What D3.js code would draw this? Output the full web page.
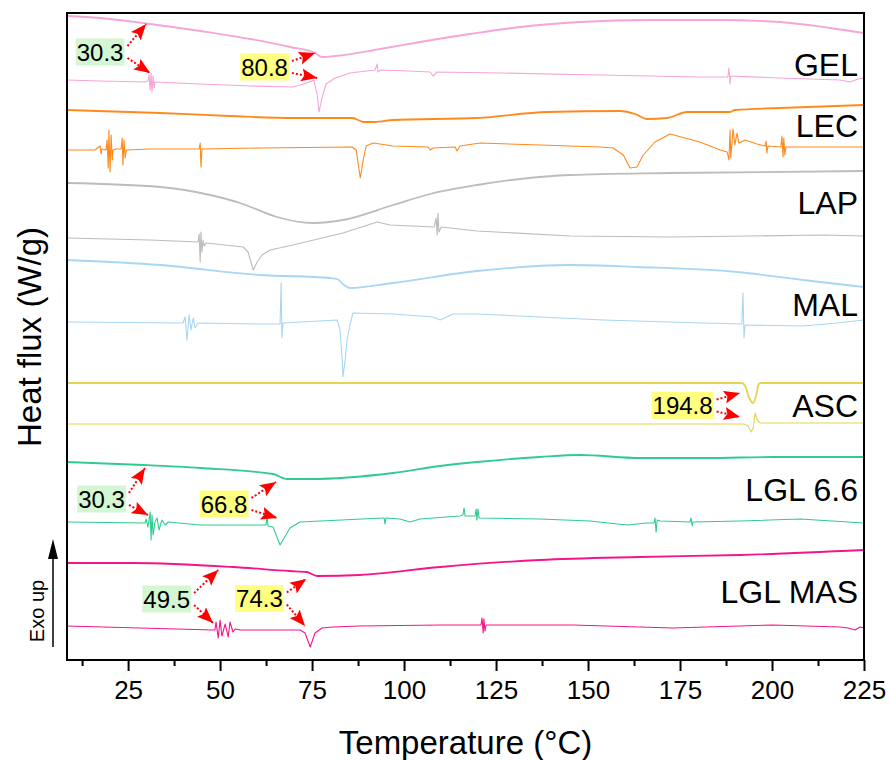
<!DOCTYPE html>
<html>
<head>
<meta charset="utf-8">
<script src="https://cdn.jsdelivr.net/npm/d3@7"></script>
<style>
  html, body { margin: 0; padding: 0; background: #fff; }
  svg { display: block; font-family: "Liberation Sans", Arial, sans-serif; }
</style>
</head>
<body>
<svg id="chart" width="889" height="760"></svg>
<script>
// ---------------- DATA ----------------
const xDomain = [8.4, 225];
const yDomain = [-0.1, 64.6];
const majorTicks = [25, 50, 75, 100, 125, 150, 175, 200, 225];
const minorTicks = [12.5, 37.5, 62.5, 87.5, 112.5, 137.5, 162.5, 187.5, 212.5];
const xTitle = "Temperature (°C)";
const yTitle = "Heat flux (W/g)";
const sampleNames = ["GEL", "LEC", "LAP", "MAL", "ASC", "LGL 6.6", "LGL MAS"];
const labelValues = [58.3, 52.2, 44.5, 34.3, 24.2, 15.8, 5.6];

const gelTop = [[8.4,64.3],[17.4,64.1],[31.0,63.5],[44.6,62.8],[58.2,62.0],[69.0,61.2],[75.8,60.6],[77.7,60.2],[81.3,60.3],[93.5,61.0],[104.3,61.7],[117.9,62.5],[131.5,63.2],[147.8,63.7],[166.8,63.9],[185.9,63.9],[202.2,63.7],[215.8,63.1],[225,62.6]];
const gelBottom = [[8.4,57.9],[17.4,57.8],[29.6,57.7],[30.4,57.8],[30.7,58.4],[31.0,56.9],[31.25,58.6],[31.5,56.7],[31.8,58.3],[32.1,57.1],[32.3,57.7],[44.6,57.5],[58.2,57.3],[69.8,57.2],[73.6,57.6],[75.5,57.9],[76.4,56.4],[76.9,54.7],[77.7,56.1],[78.8,57.5],[81.3,58.1],[85.3,58.6],[92.1,58.9],[92.7,59.5],[92.9,58.7],[93.5,58.9],[101.6,58.8],[107.1,58.7],[107.9,58.3],[109.0,58.7],[126.1,58.6],[153.3,58.4],[180.4,58.2],[188.0,58.2],[188.3,59.1],[188.6,57.5],[188.8,58.3],[202.2,58.1],[218.5,57.9],[221.2,57.7],[223.4,58.0],[225,58.1]];

const lecTop = [[8.4,54.9],[33.7,54.6],[52.7,54.3],[69.8,54.1],[86.1,54.1],[87.5,53.9],[88.9,53.7],[92.1,53.7],[97.0,53.9],[119.8,54.1],[138.9,54.7],[158.7,54.8],[162.8,54.5],[166.0,54.0],[171.5,54.1],[176.9,54.7],[188.6,54.7],[189.9,54.9],[202.2,55.1],[225,55.4]];
const lecBottom = [[8.4,50.9],[16.0,50.9],[17.4,51.3],[17.7,50.5],[17.9,51.0],[19.0,50.9],[19.3,51.9],[19.6,49.1],[19.8,52.9],[20.1,48.7],[20.4,52.4],[20.7,49.9],[20.9,50.9],[21.7,51.0],[23.1,51.0],[23.4,52.1],[23.6,49.4],[23.9,51.9],[24.2,50.1],[24.5,50.9],[31.0,51.0],[44.3,51.0],[44.6,51.6],[44.8,49.2],[45.1,51.0],[60.9,51.1],[85.9,51.2],[87.0,50.9],[88.1,48.1],[88.9,49.9],[89.7,51.3],[91.6,51.6],[97.0,51.3],[106.5,51.2],[107.1,50.9],[107.9,51.1],[113.9,51.2],[114.4,50.8],[115.2,51.3],[120.7,51.6],[137.0,51.4],[153.3,51.2],[156.8,51.1],[159.6,50.4],[161.4,49.1],[163.3,49.2],[165.0,50.4],[168.2,51.7],[172.3,52.5],[180.4,51.7],[185.9,50.9],[187.8,50.7],[188.3,49.9],[188.6,52.9],[188.8,50.1],[189.4,53.0],[189.9,51.4],[190.5,52.6],[191.0,51.6],[192.7,51.9],[195.9,51.5],[198.1,51.3],[198.4,51.8],[198.6,50.6],[198.9,51.3],[202.4,51.2],[202.7,52.3],[203.0,50.2],[203.2,52.1],[203.5,50.4],[203.8,51.2],[207.6,51.2],[225,51.2]];

const lapTop = [[8.4,47.6],[33.7,47.2],[47.3,46.4],[55.4,45.6],[59.0,45.1],[65.5,44.2],[75.3,43.6],[83.4,43.9],[97.0,45.4],[107.1,46.5],[119.8,47.4],[131.5,48.0],[145.1,48.4],[172.3,48.6],[225,48.8]];
const lapBottom = [[8.4,42.1],[31.0,41.9],[44.0,41.7],[44.3,42.5],[44.6,39.7],[44.8,42.7],[45.1,40.7],[45.4,41.9],[45.7,41.3],[46.2,41.6],[56.3,41.2],[57.6,40.7],[59.0,38.9],[60.1,39.7],[61.4,40.4],[63.6,40.9],[69.8,41.4],[83.4,42.6],[92.7,43.7],[96.2,43.4],[108.2,43.2],[108.7,44.1],[109.0,42.4],[109.2,44.6],[109.5,42.7],[110.1,43.2],[119.8,42.8],[145.1,42.3],[172.3,42.2],[194.0,42.3],[213.9,42.4],[225,42.3]];

const malTop = [[8.4,39.9],[33.7,39.4],[60.9,38.4],[79.9,38.1],[81.8,38.0],[83.7,37.4],[85.3,37.1],[97.0,37.6],[119.8,38.8],[145.1,39.4],[163.3,39.2],[190.5,38.7],[208.4,37.9],[225,37.2]];
const malBottom = [[8.4,33.7],[39.9,33.6],[40.5,34.2],[41.0,31.9],[41.6,34.4],[42.1,32.9],[42.7,34.1],[43.2,33.1],[44.0,33.6],[60.9,33.5],[66.3,33.5],[66.6,37.6],[66.8,32.1],[67.1,33.6],[81.8,33.9],[82.6,32.9],[83.2,29.9],[83.4,28.2],[84.0,29.9],[84.5,31.9],[85.3,33.4],[86.1,34.6],[97.0,34.5],[107.9,34.2],[109.8,33.9],[113.3,34.5],[119.8,34.5],[154.1,33.9],[181.3,33.6],[191.8,33.5],[192.1,36.6],[192.4,32.1],[192.7,33.4],[208.4,33.3],[217.7,33.6],[225,33.9]];

const ascTop = [[8.4,27.6],[191.8,27.6],[192.7,27.3],[193.8,26.1],[194.9,25.6],[195.7,26.4],[196.3,27.4],[196.8,27.6],[225,27.6]];
const ascBottom = [[8.4,23.5],[192.4,23.5],[193.5,23.3],[194.3,22.7],[194.9,23.1],[195.4,24.6],[196.0,23.9],[196.8,23.6],[225,23.6]];

const lgl66Top = [[8.4,19.7],[29.1,19.4],[44.6,19.1],[64.4,18.5],[68.2,18.0],[74.5,18.0],[97.0,18.6],[109.8,19.3],[119.8,19.7],[136.9,20.2],[147.8,20.4],[164.1,20.1],[182.3,20.1],[200.2,20.2],[225,20.2]];
const lgl66Bottom = [[8.4,13.7],[29.6,13.6],[29.9,14.0],[30.4,13.2],[31.0,14.7],[31.25,11.9],[31.5,14.4],[31.8,12.4],[32.3,13.7],[32.9,14.1],[33.4,12.9],[34.2,13.9],[35.1,13.4],[35.9,13.7],[44.6,13.4],[61.7,13.4],[62.5,13.4],[62.8,14.4],[63.0,13.3],[64.4,13.2],[66.3,11.4],[69.0,13.1],[71.7,13.7],[94.3,14.1],[94.6,14.1],[94.8,13.5],[95.1,14.1],[98.9,14.0],[101.6,13.7],[104.3,14.0],[115.2,14.3],[116.0,14.4],[116.3,15.1],[116.6,14.3],[119.3,14.3],[119.6,15.0],[119.8,13.9],[120.1,15.0],[120.4,14.1],[136.9,14.0],[150.5,13.8],[160.6,13.4],[166.0,13.6],[167.9,13.6],[168.2,14.1],[168.5,12.7],[168.8,13.9],[169.6,13.8],[177.7,13.7],[178.0,14.1],[178.3,13.3],[178.5,13.7],[191.3,13.8],[207.6,14.0],[225,13.6]];

const lglMasTop = [[8.4,9.6],[26.4,9.6],[53.5,9.2],[69.0,8.8],[73.6,8.7],[76.4,8.3],[88.0,8.4],[109.8,9.2],[136.9,9.9],[164.1,10.2],[191.3,10.4],[225,10.9]];
const lglMasBottom = [[8.4,3.3],[48.1,2.9],[48.6,2.9],[48.9,3.7],[49.5,2.1],[50.0,3.9],[50.5,2.3],[51.4,3.5],[52.2,2.2],[52.7,3.7],[53.5,2.7],[54.1,3.0],[55.4,2.9],[69.8,2.9],[71.7,2.9],[73.1,2.6],[73.6,2.1],[74.5,1.2],[75.8,2.6],[77.7,3.1],[80.7,3.2],[88.0,3.3],[109.8,3.4],[120.9,3.4],[121.2,4.1],[121.5,2.6],[121.7,4.0],[122.0,2.8],[122.3,3.4],[145.9,3.4],[173.1,3.1],[200.2,3.4],[218.5,3.2],[220.7,3.1],[222.6,2.9],[223.9,3.2],[225,3.1]];

// annotations: label, label centre (temperature, value), two arrow tips
const annotLabels = ["30.3", "80.8", "194.8", "30.3", "66.8", "49.5", "74.3"];
const annotKinds  = ["onset", "peak", "peak", "onset", "peak", "onset", "peak"];
const annotCenters = [[17.4,60.7],[62.1,59.2],[175.7,25.35],[17.8,16.0],[51.1,15.5],[35.5,6.0],[60.7,6.05]];
const annotTipsUp  = [[29.9,63.5],[75.8,60.6],[191.3,26.6],[29.6,19.1],[65.2,17.7],[49.5,8.9],[73.4,8.0]];
const annotTipsDown= [[31.0,58.6],[76.4,58.1],[191.3,24.2],[30.4,14.4],[65.5,14.1],[48.1,3.6],[73.1,3.3]];

// ---------------- STYLE / LAYOUT ----------------
const colors = ["#f6a5d6", "#ff8a1c", "#bcbcbc", "#a8d6f4", "#e3d54e", "#2fcc90", "#f5148a"];
const series = [
  [gelTop, gelBottom], [lecTop, lecBottom], [lapTop, lapBottom], [malTop, malBottom],
  [ascTop, ascBottom], [lgl66Top, lgl66Bottom], [lglMasTop, lglMasBottom]
];
const L = 67, R = 864, T = 13, B = 660;

const svg = d3.select("#chart");
const x = d3.scaleLinear().domain(xDomain).range([L, R]);
const y = d3.scaleLinear().domain(yDomain).range([B, T]);

svg.append("defs").append("clipPath").attr("id", "clip")
  .append("rect").attr("x", L).attr("y", T).attr("width", R - L).attr("height", B - T);

const defs = svg.select("defs");
defs.append("marker").attr("id", "ah")
  .attr("markerUnits", "userSpaceOnUse")
  .attr("viewBox", "0 -7 17 14")
  .attr("refX", 16).attr("refY", 0)
  .attr("markerWidth", 17).attr("markerHeight", 14)
  .attr("orient", "auto")
  .append("path").attr("d", "M0,-6.5L16,0L0,6.5L3,0Z").attr("fill", "#ff0000");

const g = svg.append("g").attr("clip-path", "url(#clip)");
const smooth = d3.line().x(d => x(d[0])).y(d => y(d[1])).curve(d3.curveMonotoneX);
const raw = d3.line().x(d => x(d[0])).y(d => y(d[1]));

series.forEach((s, i) => {
  g.append("path").attr("d", smooth(s[0])).attr("fill", "none")
    .attr("stroke", colors[i]).attr("stroke-width", 1.8).attr("stroke-linejoin", "round");
  g.append("path").attr("d", raw(s[1])).attr("fill", "none")
    .attr("stroke", colors[i]).attr("stroke-width", 1.1).attr("stroke-linejoin", "round");
});

// sample labels
sampleNames.forEach((n, i) => {
  svg.append("text").attr("x", 858).attr("y", y(labelValues[i]))
    .attr("text-anchor", "end").attr("font-size", 32).attr("fill", "#000").text(n);
});

// annotations
annotLabels.forEach((lab, i) => {
  const cx = x(annotCenters[i][0]), cy = y(annotCenters[i][1]);
  const grp = svg.append("g");
  const t = grp.append("text").attr("x", cx).attr("y", cy + 8.5)
    .attr("text-anchor", "middle").attr("font-size", 24).attr("fill", "#000").text(lab);
  const bb = t.node().getBBox();
  grp.insert("rect", "text").attr("x", bb.x - 1).attr("y", cy - 13.5)
    .attr("width", bb.width + 2).attr("height", 27)
    .attr("fill", annotKinds[i] === "onset" ? "#d3f6d3" : "#ffff80");
  const sx = bb.x + bb.width + 4;
  [[annotTipsUp[i], -6], [annotTipsDown[i], 6]].forEach(([tip, dy]) => {
    grp.append("line").attr("x1", sx).attr("y1", cy + dy)
      .attr("x2", x(tip[0])).attr("y2", y(tip[1]))
      .attr("stroke", "#ff0000").attr("stroke-width", 2)
      .attr("stroke-dasharray", "2,2").attr("marker-end", "url(#ah)");
  });
});

// frame
svg.append("rect").attr("x", L).attr("y", T).attr("width", R - L).attr("height", B - T)
  .attr("fill", "none").attr("stroke", "#000").attr("stroke-width", 2);

// x axis
const axis = svg.append("g").attr("transform", `translate(0,${B})`)
  .call(d3.axisBottom(x).tickValues(majorTicks).tickSize(11).tickPadding(10).tickFormat(d3.format("d")));
axis.select(".domain").remove();
axis.selectAll(".tick line").attr("stroke-width", 2);
axis.selectAll(".tick text").attr("font-size", 26).attr("font-family", "Liberation Sans, Arial, sans-serif").attr("fill", "#000");
const minor = svg.append("g").attr("transform", `translate(0,${B})`)
  .call(d3.axisBottom(x).tickValues(minorTicks).tickSize(6).tickFormat(""));
minor.select(".domain").remove();
minor.selectAll(".tick line").attr("stroke-width", 2);

// titles
svg.append("text").attr("x", (L + R) / 2 + 0).attr("y", 754).attr("text-anchor", "middle")
  .attr("font-size", 33).attr("fill", "#000").text(xTitle);
svg.append("text").attr("transform", "translate(41,337) rotate(-90)").attr("text-anchor", "middle")
  .attr("font-size", 33).attr("fill", "#000").text(yTitle);

// Exo up
svg.append("text").attr("transform", "translate(44,611) rotate(-90)").attr("text-anchor", "middle")
  .attr("font-size", 20).attr("fill", "#000").text("Exo up");
svg.append("line").attr("x1", 53).attr("y1", 647).attr("x2", 53).attr("y2", 555)
  .attr("stroke", "#000").attr("stroke-width", 1.5);
svg.append("path").attr("d", "M53,539L58,559L48,559Z").attr("fill", "#000");
</script>
</body>
</html>
